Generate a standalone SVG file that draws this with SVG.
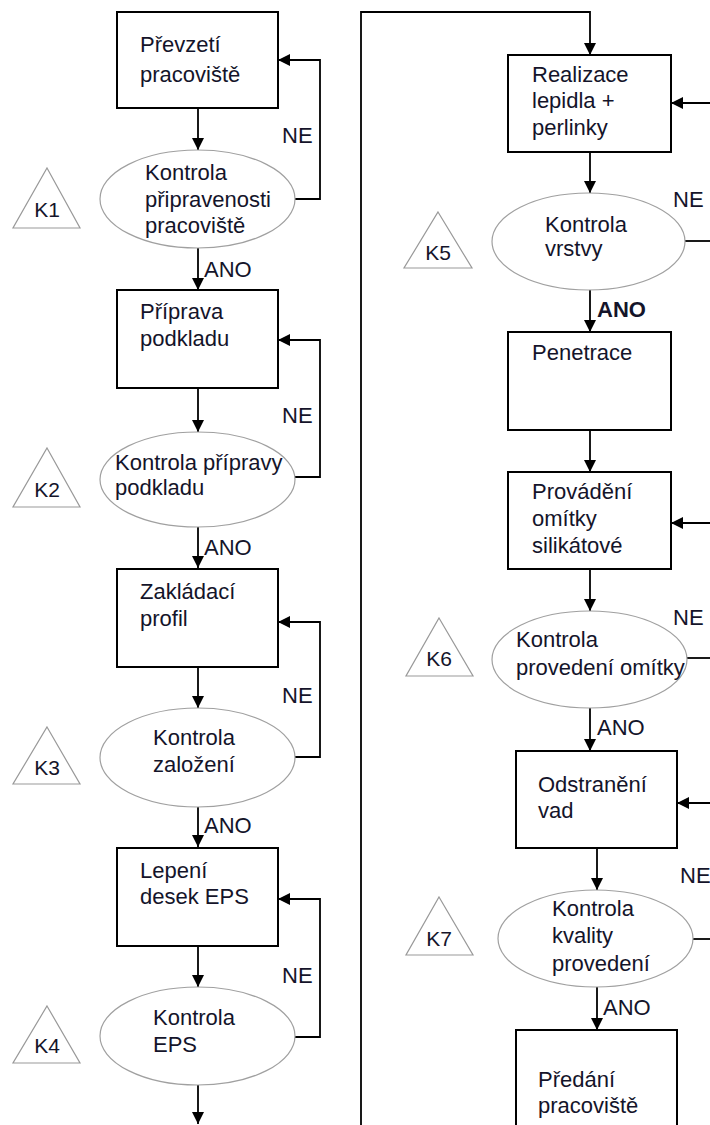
<svg xmlns="http://www.w3.org/2000/svg" width="710" height="1125" viewBox="0 0 710 1125">
<defs>
<marker id="ah" viewBox="0 0 10 10" refX="10" refY="5" markerWidth="12" markerHeight="12" markerUnits="userSpaceOnUse" orient="auto"><path d="M0,0 L10,5 L0,10 z" fill="#000"/></marker>
</defs>
<style>
.box{fill:#fff;stroke:#000;stroke-width:2}
.ell{fill:#fff;stroke:#a0a0a0;stroke-width:1.2}
.tri{fill:#fff;stroke:#999;stroke-width:1.2}
.t{font-family:"Liberation Sans",Arial,sans-serif;font-size:22px;fill:#14142a}
.b{font-weight:bold}
.k{font-family:"Liberation Sans",Arial,sans-serif;font-size:21px;fill:#14142a;text-anchor:middle}
.c{fill:none;stroke:#000;stroke-width:1.8}
.a{marker-end:url(#ah)}
</style>
<rect width="710" height="1125" fill="#fff"/>

<g id="connectors">
<path class="c a" d="M198,108 V150"/>
<path class="c a" d="M295,199 H320 V60 H278"/>
<path class="c a" d="M198,248 V290"/>
<path class="c a" d="M198,388 V432"/>
<path class="c a" d="M295,477 H320 V340 H278"/>
<path class="c a" d="M198,527 V568"/>
<path class="c a" d="M198,667 V708"/>
<path class="c a" d="M295,757 H320 V622 H278"/>
<path class="c a" d="M198,807 V847"/>
<path class="c a" d="M198,946 V987"/>
<path class="c a" d="M295,1037 H320 V899 H278"/>
<path class="c a" d="M198,1085 V1124"/>
<path class="c a" d="M361,1125 V12 H590 V55"/>
<path class="c a" d="M710,103 H671"/>
<path class="c a" d="M590,152 V193"/>
<path class="c" d="M685,241 H710"/>
<path class="c a" d="M590,290 V332"/>
<path class="c a" d="M590,430 V472"/>
<path class="c a" d="M710,523 H671"/>
<path class="c a" d="M590,569 V611"/>
<path class="c" d="M687,658 H710"/>
<path class="c a" d="M590,708 V751"/>
<path class="c a" d="M710,803 H677"/>
<path class="c a" d="M597,848 V890"/>
<path class="c" d="M693,939 H710"/>
<path class="c a" d="M597,987 V1030"/>
<text class="t" x="282" y="143">NE</text>
<text class="t" x="204" y="277">ANO</text>
<text class="t" x="282" y="423">NE</text>
<text class="t" x="204" y="555">ANO</text>
<text class="t" x="282" y="703">NE</text>
<text class="t" x="204" y="833">ANO</text>
<text class="t" x="282" y="983">NE</text>
<text class="t" x="673" y="207">NE</text>
<text class="t b" x="597" y="317">ANO</text>
<text class="t" x="673" y="625">NE</text>
<text class="t" x="597" y="735">ANO</text>
<text class="t" x="680" y="883">NE</text>
<text class="t" x="603" y="1015">ANO</text>
</g>

<g id="n1"><rect class="box" x="117" y="12" width="161" height="96"/><text class="t" x="140" y="52">Převzetí</text><text class="t" x="140" y="82">pracoviště</text></g>
<g id="n2"><ellipse class="ell" cx="197.5" cy="199" rx="97.5" ry="49"/><text class="t" x="145" y="180">Kontrola</text><text class="t" x="145" y="207">připravenosti</text><text class="t" x="145" y="233">pracoviště</text></g>
<g id="k1"><polygon class="tri" points="47,168 80,228 13,228"/><text class="k" x="47" y="217">K1</text></g>

<g id="n3"><rect class="box" x="117" y="290" width="161" height="98"/><text class="t" x="140" y="319">Příprava</text><text class="t" x="140" y="346">podkladu</text></g>
<g id="n4"><ellipse class="ell" cx="197.5" cy="479.5" rx="97.5" ry="47.5"/><text class="t" x="115" y="470">Kontrola přípravy</text><text class="t" x="115" y="495">podkladu</text></g>
<g id="k2"><polygon class="tri" points="47,448 80,507 13,507"/><text class="k" x="47" y="497">K2</text></g>

<g id="n5"><rect class="box" x="117" y="569" width="161" height="98"/><text class="t" x="140" y="599">Zakládací</text><text class="t" x="140" y="626">profil</text></g>
<g id="n6"><ellipse class="ell" cx="197.5" cy="757.5" rx="97.5" ry="49.5"/><text class="t" x="153" y="745">Kontrola</text><text class="t" x="153" y="772">založení</text></g>
<g id="k3"><polygon class="tri" points="47,727 80,784 13,784"/><text class="k" x="47" y="775">K3</text></g>

<g id="n7"><rect class="box" x="117" y="848" width="161" height="98"/><text class="t" x="140" y="878">Lepení</text><text class="t" x="140" y="904">desek EPS</text></g>
<g id="n8"><ellipse class="ell" cx="197.5" cy="1036" rx="97.5" ry="49"/><text class="t" x="153" y="1025">Kontrola</text><text class="t" x="153" y="1052">EPS</text></g>
<g id="k4"><polygon class="tri" points="47,1006 80,1063 13,1063"/><text class="k" x="47" y="1053">K4</text></g>

<g id="n9"><rect class="box" x="508" y="55" width="163" height="97"/><text class="t" x="532" y="82">Realizace</text><text class="t" x="532" y="108">lepidla +</text><text class="t" x="532" y="135">perlinky</text></g>
<g id="n10"><ellipse class="ell" cx="588.5" cy="241.5" rx="96.5" ry="48.5"/><text class="t" x="545" y="232">Kontrola</text><text class="t" x="545" y="256">vrstvy</text></g>
<g id="k5"><polygon class="tri" points="438,212 472,268 404,268"/><text class="k" x="438" y="260">K5</text></g>

<g id="n11"><rect class="box" x="508" y="332" width="163" height="98"/><text class="t" x="532" y="360">Penetrace</text></g>
<g id="n12"><rect class="box" x="508" y="472" width="163" height="97"/><text class="t" x="532" y="499">Provádění</text><text class="t" x="532" y="526">omítky</text><text class="t" x="532" y="553">silikátové</text></g>
<g id="n13"><ellipse class="ell" cx="589.5" cy="659.5" rx="97.5" ry="48.5"/><text class="t" x="516" y="647">Kontrola</text><text class="t" x="516" y="675">provedení omítky</text></g>
<g id="k6"><polygon class="tri" points="439,618 473,676 406,676"/><text class="k" x="439" y="666">K6</text></g>

<g id="n14"><rect class="box" x="516" y="751" width="161" height="97"/><text class="t" x="538" y="792">Odstranění</text><text class="t" x="538" y="818">vad</text></g>
<g id="n15"><ellipse class="ell" cx="595.5" cy="938.5" rx="97.5" ry="48.5"/><text class="t" x="552" y="916">Kontrola</text><text class="t" x="552" y="943">kvality</text><text class="t" x="552" y="971">provedení</text></g>
<g id="k7"><polygon class="tri" points="439,897 473,955 406,955"/><text class="k" x="439" y="946">K7</text></g>

<g id="n16"><rect class="box" x="516" y="1030" width="161" height="110"/><text class="t" x="538" y="1087">Předání</text><text class="t" x="538" y="1113">pracoviště</text></g>
</svg>
